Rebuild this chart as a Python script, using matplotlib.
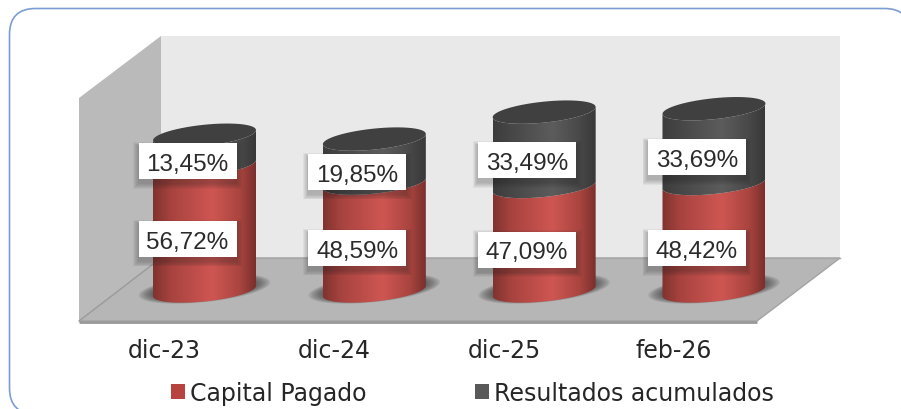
import numpy as np
import matplotlib
matplotlib.use("Agg")
import matplotlib.pyplot as plt
from matplotlib.patches import Polygon, FancyBboxPatch, Rectangle, Patch
from matplotlib.colors import LinearSegmentedColormap

categories = ["dic-23", "dic-24", "dic-25", "feb-26"]
capital_pagado = [56.72, 48.59, 47.09, 48.42]
resultados = [13.45, 19.85, 33.49, 33.69]
series_names = ["Capital Pagado", "Resultados acumulados"]

W, H = 901, 410
PX_CAT = 169.83      # pixels per category
PX_VAL = 2.22        # pixels per percent
X0, Y0 = 204.5, 292  # pixel position of the first cylinder's base centre
HALF_W, HALF_H, TILT = 51.5, 10.5, 0.10

fig = plt.figure(figsize=(W / 100, H / 100), dpi=100, facecolor="white")

# scenery layer, in figure pixels
bg = fig.add_axes([0, 0, 1, 1], zorder=0)
bg.set_xlim(0, W)
bg.set_ylim(H, 0)
bg.axis("off")
bg.add_patch(FancyBboxPatch((9.5, 9.5), 901, 405.5, boxstyle="round,pad=0,rounding_size=26",
                            fc="white", ec="#7c9dd3", lw=1.2))
bg.add_patch(Polygon([(161, 37), (840, 37), (840, 259), (161, 259)], fc="#e9e9e9", ec="none"))
bg.add_patch(Polygon([(79, 99), (161, 37), (161, 259), (79, 322)], fc="#bababa", ec="none"))
bg.add_patch(Polygon([(161, 259), (840, 259), (757, 322), (79, 322)], fc="#b6b6b6", ec="#a3a3a3", lw=1))
bg.plot([79, 757], [322.5, 322.5], color="#989898", lw=2, solid_capstyle="butt")
bg.plot([161, 840], [259, 259], color="#a8a8a8", lw=1)
bg.plot([79, 161], [322, 259], color="#9c9c9c", lw=0.8)

# chart layer: categories and percent values
ax = fig.add_axes([79 / W, (H - 322) / H, (840 - 79) / W, (322 - 37) / H], zorder=1)
ax.patch.set_alpha(0)
ax.set_xlim((79 - X0) / PX_CAT, (840 - X0) / PX_CAT)
ax.set_ylim((Y0 - 322) / PX_VAL, (Y0 - 37) / PX_VAL)
for s in ax.spines.values():
    s.set_visible(False)
ax.set_yticks([])
ax.set_xticks(np.arange(len(categories)) - 40 / PX_CAT)
ax.set_xticklabels(categories, fontsize=17, family="DejaVu Sans", color="#262626")
ax.tick_params(axis="x", length=0, pad=12)

hw = HALF_W / PX_CAT
hh = HALF_H / PX_VAL
tilt = TILT * PX_CAT / PX_VAL


def curve(cx, val, start, stop, n=60):
    t = np.linspace(start, stop, n)
    x = cx + hw * np.cos(t)
    y = val - hh * np.sin(t) + tilt * (x - cx)
    return np.column_stack([x, y])


def ramp(colors):
    return LinearSegmentedColormap.from_list("c", colors)


red_map = ramp([(0, "#80332f"), (0.18, "#a8433f"), (0.58, "#cf5652"), (0.85, "#a8443f"), (1, "#7a2f2c")])
dark_map = ramp([(0, "#3c3c3c"), (0.2, "#484848"), (0.58, "#5c5c5c"), (0.85, "#484848"), (1, "#383838")])
grad = np.linspace(0, 1, 256).reshape(1, -1)


def segment(cx, low, high, cmap, z):
    # front half of the lower edge, then front half of the upper edge back
    pts = np.vstack([curve(cx, low, np.pi, 0), curve(cx, high, 0, np.pi)])
    poly = Polygon(pts, closed=True, fc="none", ec="none", transform=ax.transData)
    ax.add_patch(poly)
    im = ax.imshow(grad, cmap=cmap, aspect="auto", zorder=z,
                   extent=(cx - hw, cx + hw, low - 3 * hh, high + 3 * hh))
    im.set_clip_path(poly)


for i, (cap, res) in enumerate(zip(capital_pagado, resultados)):
    # soft shadow on the floor
    for k in range(8):
        g = 1 + (8 - k) * 0.035
        t = np.linspace(0, 2 * np.pi, 80)
        sx = i + hw * g * np.cos(t)
        sy = 1 + hh * g * np.sin(t) + tilt * (sx - i)
        ax.fill(sx, sy, color="#303030", alpha=0.10, lw=0, zorder=2, clip_on=False)
    segment(i, 0, cap, red_map, 3)
    segment(i, cap, cap + res, dark_map, 3.1)
    ax.fill(*curve(i, cap + res, 0, 2 * np.pi).T, color="#404040", lw=0, zorder=3.2)

# value labels in white boxes with soft shadows
BOX_W, BOX_H = 98 / PX_CAT, 36 / PX_VAL
for i, (cap, res) in enumerate(zip(capital_pagado, resultados)):
    for centre, value in ((cap / 2, cap), (cap + res / 2, res)):
        lx = i - 17 / PX_CAT
        ly = centre - 11 / PX_VAL
        for k in range(6):
            g = (6 - k) * 0.9
            ax.add_patch(Rectangle((lx - BOX_W / 2 - g / PX_CAT, ly - BOX_H / 2 - (4 + g) / PX_VAL),
                                   BOX_W + 2 * g / PX_CAT, BOX_H + 2 * g / PX_VAL,
                                   fc="#202020", alpha=0.05, lw=0, zorder=4))
        ax.add_patch(Rectangle((lx - BOX_W / 2, ly - BOX_H / 2), BOX_W, BOX_H,
                               fc="white", ec="none", zorder=5))
        ax.text(lx, ly, f"{value:.2f}%".replace(".", ","), ha="center", va="center_baseline",
                fontsize=17.5, family="Liberation Sans", color="#2b2b2b", zorder=6)

ax.set_xlim((79 - X0) / PX_CAT, (840 - X0) / PX_CAT)
ax.set_ylim((Y0 - 322) / PX_VAL, (Y0 - 37) / PX_VAL)

handles = [Patch(fc="#b8423e", ec="none"), Patch(fc="#595959", ec="none")]
fig.legend(handles, series_names, loc="center", bbox_to_anchor=(472.5 / W, (H - 394) / H), ncol=2,
           frameon=False, prop={"family": "DejaVu Sans", "size": 17}, labelcolor="#262626",
           handlelength=0.6, handleheight=0.6, handletextpad=0.2, columnspacing=4.6,
           borderpad=0, borderaxespad=0)

fig.savefig("out.png", dpi=100)
